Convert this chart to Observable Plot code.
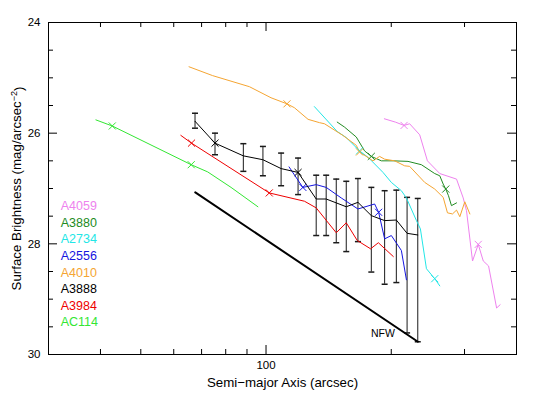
<!DOCTYPE html>
<html><head><meta charset="utf-8">
<script src="https://cdn.jsdelivr.net/npm/d3@7"></script>
<script src="https://cdn.jsdelivr.net/npm/@observablehq/plot@0.6"></script>
<style>body{margin:0;background:#fff;} #chart{width:539px;height:397px;}</style>
</head><body><div id="chart"></div>
<script>
// ---- data ----
const seriesNames  = ["A4059","A3880","A2734","A2556","A4010","A3888","A3984","AC114"];
const seriesColors = ["#ee82ee","#228b22","#22e6e6","#1515e0","#f5a532","#000000","#ee0000","#33e633"];

const a4059X = [192.5,204.6,214.7,221.4,234.1,244.3,261.6,287.0,297.8,303.3,313.6,323.7,332.8,342.7,358.3,365.4];
const a4059Y = [25.74,25.80,25.86,25.83,26.03,26.50,26.73,26.83,27.17,27.40,28.31,28.01,28.31,28.40,29.16,29.10];
const a4059M = [2,11];

const a3880X = [148.3,154.4,164.8,172.5,179.1,189.3,202.3,219.4,236.3,254.4,261.6,266.6,270.4,274.5,279.1,287.0];
const a3880Y = [25.80,25.89,26.07,26.32,26.42,26.50,26.50,26.51,26.57,26.73,26.77,26.92,27.01,27.13,27.31,27.26];
const a3880M = [4,12];

const a2734X = [130.7,148.3,155.9,167.8,176.1,191.1,200.1,211.5,217.5,229.9,235.0,243.0,254.4,261.6];
const a2734Y = [25.52,25.97,26.08,26.32,26.44,26.71,26.89,27.04,27.17,27.58,27.73,28.45,28.63,28.76];
const a2734M = [3,12];

const a2556X = [113.6,122.6,132.0,139.5,151.6,166.3,182.4,186.5,192.8,200.1,211.5,217.5];
const a2556Y = [26.61,26.98,26.93,26.98,27.17,27.37,27.28,27.43,27.91,27.85,28.12,28.65];
const a2556M = [1,7];

const a4010X = [65.3,74.4,91.2,102.8,112.3,117.0,126.2,134.4,138.2,153.0,164.8,167.8,180.7,187.5,192.8,203.8,215.4,221.4,240.7,254.4,266.6,273.0,280.7,287.0,292.3,300.5,309.0];
const a4010Y = [24.80,24.96,25.16,25.36,25.47,25.54,25.75,25.81,25.83,26.04,26.22,26.34,26.50,26.42,26.47,26.50,26.59,26.60,26.89,27.01,27.16,27.44,27.46,27.39,27.51,27.24,27.46];
const a4010M = [4,11];

const a3888X  = [67.5,75.4,88.2,98.3,108.7,119.4,132.0,139.5,147.5,155.9,166.3,179.1,192.8,205.7,218.3,231.6];
const a3888Y  = [25.785,26.18,26.41,26.48,26.64,26.71,27.19,27.19,27.26,27.33,27.25,27.49,27.58,27.57,27.81,27.84];
const a3888Lo = [25.64,26.00,26.19,26.24,26.36,26.45,26.76,26.76,26.83,26.87,26.82,26.98,27.04,27.03,27.16,27.18];
const a3888Hi = [25.91,26.39,26.69,26.77,26.95,27.11,27.85,27.85,27.98,28.14,27.96,28.51,28.73,28.70,29.61,29.77];
const a3888M = [1,5];

const a3984X = [62.4,66.2,101.8,123.7,132.0,147.5,155.9,165.7,178.4,186.2,202.3];
const a3984Y = [26.04,26.18,27.08,27.23,27.35,27.80,27.62,27.94,28.09,27.98,28.23];
const a3984M = [1,2];

const ac114X = [39.0,42.7,66.1,72.4,82.4,95.6];
const ac114Y = [25.76,25.87,26.57,26.70,26.98,27.33];
const ac114M = [1,2];

const nfwX = [67.6,231.8];
const nfwY = [27.07,29.77];
const nfwLabel = "NFW";
const nfwLabelX = 191;
const nfwLabelY = 29.63;

const xTickMinor = [40,50,60,70,80,90,200,300];
const xTickMajor = [100];
const xTickLabels = [100];
const yTickMajor = [24,26,28,30];
const yTickMinor = [24.5,25,25.5,26.5,27,27.5,28.5,29,29.5];

const xLabel = "Semi\u2212major Axis (arcsec)";
const yLabelMain = "Surface Brightness (mag/arcsec";
const yLabelSup = "\u22122";
const legendX = 32.1;

// ---- build tables ----
const seriesData = {
  A4059:[a4059X,a4059Y,a4059M], A3880:[a3880X,a3880Y,a3880M], A2734:[a2734X,a2734Y,a2734M],
  A2556:[a2556X,a2556Y,a2556M], A4010:[a4010X,a4010Y,a4010M], A3888:[a3888X,a3888Y,a3888M],
  A3984:[a3984X,a3984Y,a3984M], AC114:[ac114X,ac114Y,ac114M]
};
const lineRows = [], markRows = [];
for (const name of seriesNames) {
  const [xs, ys, ms] = seriesData[name];
  xs.forEach((x,i) => lineRows.push({name, x, y: ys[i]}));
  ms.forEach(i => markRows.push({name, x: xs[i], y: ys[i]}));
}
const errRows = a3888X.map((x,i) => ({x, lo: a3888Lo[i], hi: a3888Hi[i]}));
const nfwRows = nfwX.map((x,i) => ({x, y: nfwY[i]}));

const W = 539, H = 397, mL = 48, mR = 23, mT = 22, mB = 43;
const pw = W - mL - mR, ph = H - mT - mB;
const capSym = {draw(ctx){ ctx.moveTo(-3,0); ctx.lineTo(3,0); }};

const chart = Plot.plot({
  width: W, height: H,
  marginLeft: mL, marginRight: mR, marginTop: mT, marginBottom: mB,
  x: {type: "log", domain: [30, 400]},
  y: {domain: [24, 30], reverse: true},
  color: {domain: seriesNames, range: seriesColors},
  style: {fontFamily: "'Liberation Sans', Arial, sans-serif", fontSize: "12px", background: "white", color: "black"},
  marks: [
    Plot.frame({stroke: "black", strokeWidth: 1}),
    Plot.tickY(yTickMajor, {y: d => d, insetRight: pw - 9, stroke: "black"}),
    Plot.tickY(yTickMajor, {y: d => d, insetLeft: pw - 9, stroke: "black"}),
    Plot.tickY(yTickMinor, {y: d => d, insetRight: pw - 5, stroke: "black"}),
    Plot.tickY(yTickMinor, {y: d => d, insetLeft: pw - 5, stroke: "black"}),
    Plot.tickX(xTickMajor, {x: d => d, insetTop: ph - 9, stroke: "black"}),
    Plot.tickX(xTickMajor, {x: d => d, insetBottom: ph - 9, stroke: "black"}),
    Plot.tickX(xTickMinor, {x: d => d, insetTop: ph - 5, stroke: "black"}),
    Plot.tickX(xTickMinor, {x: d => d, insetBottom: ph - 5, stroke: "black"}),
    Plot.axisY({ticks: yTickMajor, tickSize: 0, tickPadding: 8, tickFormat: d => String(d), label: null, fontSize: 11.5}),
    Plot.axisX({ticks: xTickLabels, tickSize: 0, tickPadding: 6, tickFormat: d => String(d), label: null, fontSize: 11.5}),
    Plot.text([xLabel], {frameAnchor: "bottom", dy: 28, text: d => d, fontSize: 13.3, textAnchor: "middle", lineAnchor: "middle"}),
    Plot.text([yLabelMain], {frameAnchor: "left", dx: -32, rotate: -90, text: d => d, fontSize: 13.3, textAnchor: "middle", lineAnchor: "middle"}),
    // error bars
    Plot.ruleX(errRows, {x: "x", y1: "lo", y2: "hi", stroke: "#1a1a1a", strokeWidth: 1}),
    Plot.dot(errRows, {x: "x", y: "lo", symbol: capSym, stroke: "#1a1a1a", fill: "none", r: 3}),
    Plot.dot(errRows, {x: "x", y: "hi", symbol: capSym, stroke: "#1a1a1a", fill: "none", r: 3}),
    // NFW
    Plot.line(nfwRows, {x: "x", y: "y", stroke: "black", strokeWidth: 2}),
    Plot.text([nfwLabel], {x: () => nfwLabelX, y: () => nfwLabelY, text: d => d, fontSize: 10.5, fill: "black"}),
    // profiles
    Plot.line(lineRows, {x: "x", y: "y", z: "name", stroke: "name", strokeWidth: 1}),
    Plot.dot(markRows, {x: "x", y: "y", stroke: "name", symbol: "times", r: 3.3, strokeWidth: 1}),
    // legend
    Plot.text(seriesNames, {x: () => legendX, y: (d, i) => 27.32 + i * 0.3, text: d => d, fill: d => d, textAnchor: "start", fontSize: 12.5})
  ]
});
document.getElementById("chart").appendChild(chart);

// superscript on y label
d3.select(chart).selectAll("text").filter(function(){ return this.textContent === yLabelMain; })
  .each(function(){
    const t = d3.select(this);
    t.text(null);
    t.append("tspan").text(yLabelMain);
    t.append("tspan").attr("dy", "-0.45em").attr("font-size", "9px").text(yLabelSup);
    t.append("tspan").attr("dy", "0.45em").text(")");
  });
</script>
</body></html>
